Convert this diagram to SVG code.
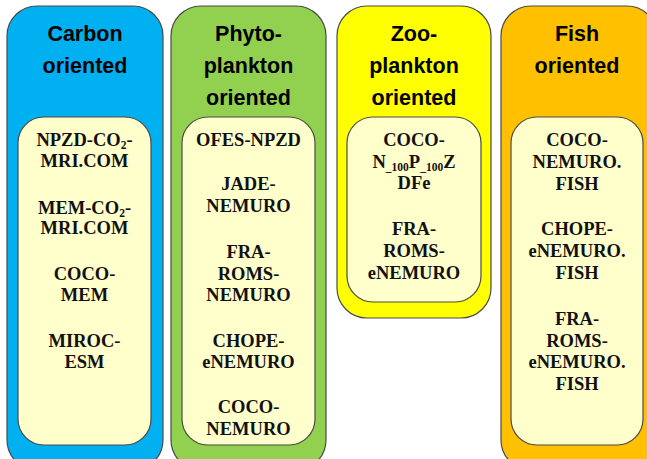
<svg xmlns="http://www.w3.org/2000/svg" width="647" height="459" viewBox="0 0 647 459">
<style>
.outer{stroke:#4a4a4a;stroke-width:1.2}
.inner{fill:#FFFFCC;stroke:#4a4a4a;stroke-width:1.2}
.hd{font-family:"Liberation Sans",Arial,sans-serif;font-weight:bold;font-size:21.5px;fill:#000;text-anchor:middle}
.it{font-family:"Liberation Serif","Times New Roman",serif;font-weight:bold;font-size:18.5px;fill:#111;text-anchor:middle}
.sb{font-size:11.5px}
</style>
<rect width="647" height="459" fill="#fff"/>
<g id="carbon">
<rect class="outer" x="7" y="6" width="156" height="464" rx="30" fill="#00B0F0"/>
<text class="hd" x="85" y="41">Carbon</text>
<text class="hd" x="85" y="73">oriented</text>
<rect class="inner" x="18" y="117" width="133" height="328" rx="26"/>
<text class="it" x="84.5" y="146">NPZD-CO<tspan class="sb" dy="3">2</tspan><tspan dy="-3">-</tspan></text>
<text class="it" x="84.5" y="167">MRI.COM</text>
<text class="it" x="84.5" y="214">MEM-CO<tspan class="sb" dy="3">2</tspan><tspan dy="-3">-</tspan></text>
<text class="it" x="84.5" y="234">MRI.COM</text>
<text class="it" x="84.5" y="280">COCO-</text>
<text class="it" x="84.5" y="301">MEM</text>
<text class="it" x="84.5" y="347">MIROC-</text>
<text class="it" x="84.5" y="368">ESM</text>
</g>
<g id="phyto">
<rect class="outer" x="171" y="6" width="155" height="464" rx="30" fill="#92D050"/>
<text class="hd" x="248.5" y="41">Phyto-</text>
<text class="hd" x="248.5" y="73">plankton</text>
<text class="hd" x="248.5" y="105">oriented</text>
<rect class="inner" x="182" y="117" width="133" height="328" rx="26"/>
<text class="it" x="248.5" y="146">OFES-NPZD</text>
<text class="it" x="248.5" y="190">JADE-</text>
<text class="it" x="248.5" y="212">NEMURO</text>
<text class="it" x="248.5" y="258">FRA-</text>
<text class="it" x="248.5" y="280">ROMS-</text>
<text class="it" x="248.5" y="301">NEMURO</text>
<text class="it" x="248.5" y="347">CHOPE-</text>
<text class="it" x="248.5" y="368">eNEMURO</text>
<text class="it" x="248.5" y="413">COCO-</text>
<text class="it" x="248.5" y="435">NEMURO</text>
</g>
<g id="zoo">
<rect class="outer" x="337" y="6" width="154" height="312" rx="30" fill="#FFFF00"/>
<text class="hd" x="414" y="41">Zoo-</text>
<text class="hd" x="414" y="73">plankton</text>
<text class="hd" x="414" y="105">oriented</text>
<rect class="inner" x="347" y="117" width="134" height="185" rx="26"/>
<text class="it" x="414" y="146">COCO-</text>
<text class="it" x="414" y="168">N<tspan class="sb" dy="3">_100</tspan><tspan dy="-3">P</tspan><tspan class="sb" dy="3">_100</tspan><tspan dy="-3">Z</tspan></text>
<text class="it" x="414" y="189">DFe</text>
<text class="it" x="414" y="235">FRA-</text>
<text class="it" x="414" y="257">ROMS-</text>
<text class="it" x="414" y="279">eNEMURO</text>
</g>
<g id="fish">
<rect class="outer" x="501" y="6" width="156" height="464" rx="30" fill="#FFC000"/>
<text class="hd" x="577" y="41">Fish</text>
<text class="hd" x="577" y="73">oriented</text>
<rect class="inner" x="511" y="117" width="132" height="328" rx="26"/>
<text class="it" x="577" y="146">COCO-</text>
<text class="it" x="577" y="168">NEMURO.</text>
<text class="it" x="577" y="190">FISH</text>
<text class="it" x="577" y="235">CHOPE-</text>
<text class="it" x="577" y="257">eNEMURO.</text>
<text class="it" x="577" y="279">FISH</text>
<text class="it" x="577" y="325">FRA-</text>
<text class="it" x="577" y="347">ROMS-</text>
<text class="it" x="577" y="368">eNEMURO.</text>
<text class="it" x="577" y="390">FISH</text>
</g>
<g id="connectors"></g>
</svg>
